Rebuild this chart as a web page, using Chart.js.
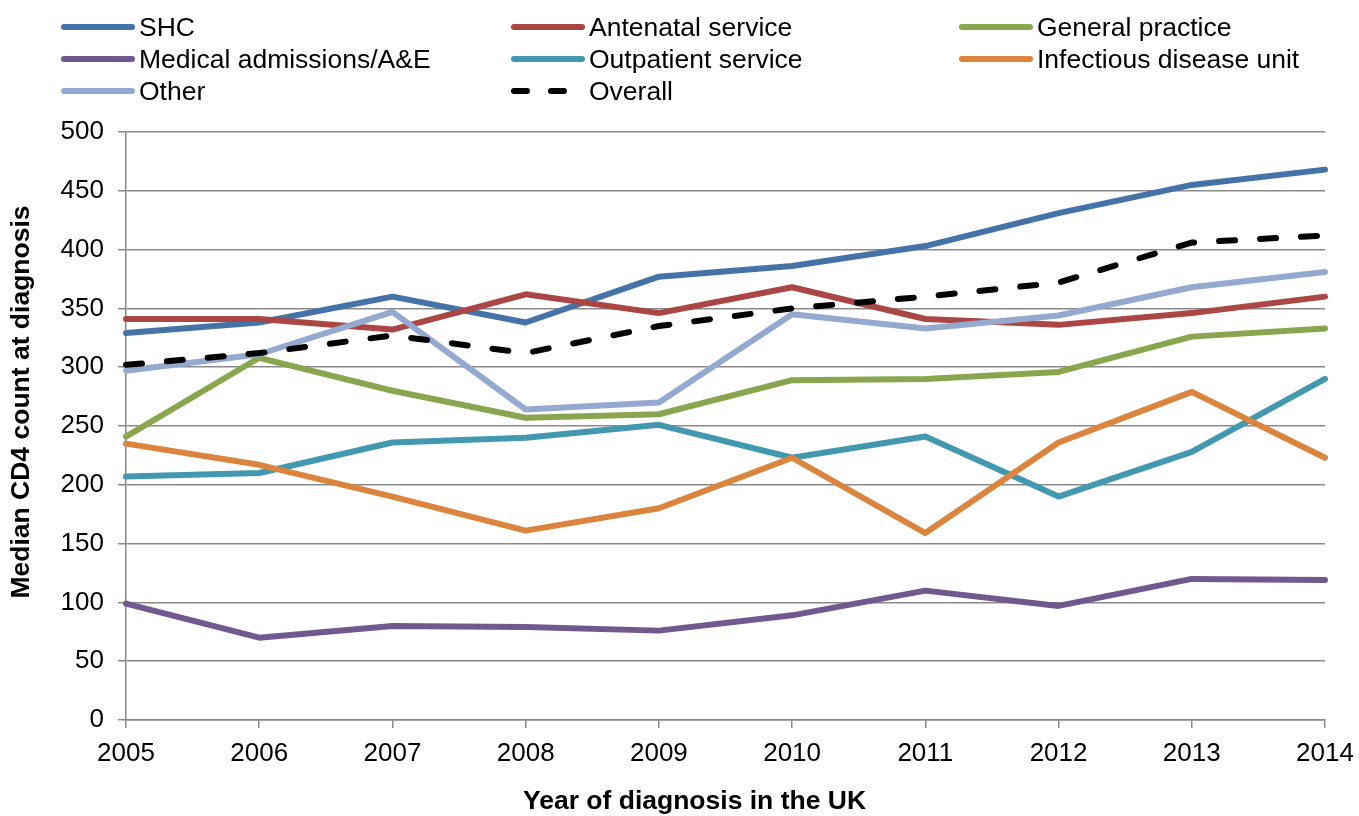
<!DOCTYPE html>
<html>
<head>
<meta charset="utf-8">
<script src="https://cdn.jsdelivr.net/npm/chart.js@4/dist/chart.umd.min.js"></script>
<style>
  html, body { margin: 0; padding: 0; background: #fff; }
  #wrap { position: relative; width: 1359px; height: 816px; }
  #legend { position: absolute; left: 62px; top: 11px; display: grid;
            grid-template-columns: 450px 448px 399px; grid-auto-rows: 32px;
            font-family: "Liberation Sans", Arial, sans-serif; font-size: 26.5px; color: #000; }
  .item { display: flex; align-items: center; white-space: nowrap; }
  .item svg { width: 76px; height: 12px; margin-right: 3px; flex: none; margin-left: -2px; }
</style>
</head>
<body>
<div id="wrap">
  <canvas id="c" width="1359" height="816"></canvas>
  <div id="legend"></div>
</div>
<script>
const years = ["2005","2006","2007","2008","2009","2010","2011","2012","2013","2014"];
const seriesNames = ["SHC","Antenatal service","General practice","Medical admissions/A&E",
  "Outpatient service","Infectious disease unit","Other","Overall"];
const shc        = [329, 338, 360, 338, 377, 386, 403, 431, 455, 468];
const antenatal  = [341, 341, 332, 362, 346, 368, 341, 336, 346, 360];
const generalPr  = [241, 308, 280, 257, 260, 289, 290, 296, 326, 333];
const medical    = [99, 70, 80, 79, 76, 89, 110, 97, 120, 119];
const outpatient = [207, 210, 236, 240, 251, 223, 241, 190, 228, 290];
const infectious = [235, 217, 190, 161, 180, 223, 159, 236, 279, 223];
const other      = [297, 311, 347, 264, 270, 345, 333, 344, 368, 381];
const overall    = [302, 312, 327, 312, 335, 350, 360, 372, 406, 412];
const yTicks = [0, 50, 100, 150, 200, 250, 300, 350, 400, 450, 500];
const xTitle = 'Year of diagnosis in the UK';
const yTitle = 'Median CD4 count at diagnosis';

const values = [shc, antenatal, generalPr, medical, outpatient, infectious, other, overall];
const colors = ["#4572A7","#AA4643","#89A54E","#71588F","#4198AF","#DB843D","#93A9CF","#000000"];
const dashed = [false,false,false,false,false,false,false,true];

const datasets = values.map((v, i) => ({
  label: seriesNames[i],
  data: v,
  borderColor: colors[i],
  backgroundColor: colors[i],
  borderWidth: 6,
  borderDash: dashed[i] ? [16, 25] : [],
  borderCapStyle: 'round',
  borderJoinStyle: 'round',
  pointRadius: 0,
  tension: 0,
  fill: false,
  order: values.length - i
}));

// HTML legend built from the datasets
const legend = document.getElementById('legend');
datasets.forEach(ds => {
  const d = document.createElement('div');
  d.className = 'item';
  const dash = ds.borderDash.length ? 'stroke-dasharray="13 24"' : '';
  d.innerHTML = `<svg viewBox="0 0 76 12"><line x1="4" y1="6" x2="72" y2="6" stroke="${ds.borderColor}" stroke-width="6" stroke-linecap="round" ${dash}/></svg><span>${ds.label}</span>`;
  legend.appendChild(d);
});

const font = "'Liberation Sans', Arial, sans-serif";

// axis titles, placed like the original (slightly off the plot-area centre)
const axisTitles = {
  id: 'axisTitles',
  afterDraw(chart) {
    const { ctx, chartArea: a, height } = chart;
    ctx.save();
    ctx.fillStyle = '#000';
    ctx.font = `bold 26.5px ${font}`;
    ctx.textAlign = 'center';
    ctx.textBaseline = 'middle';
    ctx.fillText(xTitle, (a.left + a.right) / 2 - 31, height - 14);
    ctx.translate(22, (a.top + a.bottom) / 2 - 24);
    ctx.rotate(-Math.PI / 2);
    ctx.fillText(yTitle, 0, 0);
    ctx.restore();
  }
};

new Chart(document.getElementById('c'), {
  type: 'line',
  data: { labels: years, datasets },
  plugins: [axisTitles],
  options: {
    responsive: false,
    animation: false,
    layout: { padding: { top: 132, right: 0, left: 0, bottom: 0 } },
    plugins: { legend: { display: false }, tooltip: { enabled: false } },
    scales: {
      x: {
        offset: false,
        grid: { drawOnChartArea: false, drawTicks: true, tickLength: 8, color: '#8a8a8a', lineWidth: 1.5 },
        border: { color: '#8a8a8a', width: 1.5 },
        ticks: { color: '#000', font: { family: font, size: 26 }, padding: 10, maxRotation: 0, autoSkip: false },
        afterFit: s => { s.height = 96; s.paddingRight = 34; s.paddingLeft = 0; }
      },
      y: {
        min: 0, max: 500,
        afterBuildTicks: s => { s.ticks = yTicks.map(v => ({ value: v })); },
        grid: { color: '#8a8a8a', lineWidth: 1.5, tickLength: 8 },
        border: { color: '#8a8a8a', width: 1.5 },
        ticks: { color: '#000', font: { family: font, size: 26 }, padding: 14 },
        afterFit: s => { s.width = 126; }
      }
    }
  }
});
</script>
</body>
</html>
